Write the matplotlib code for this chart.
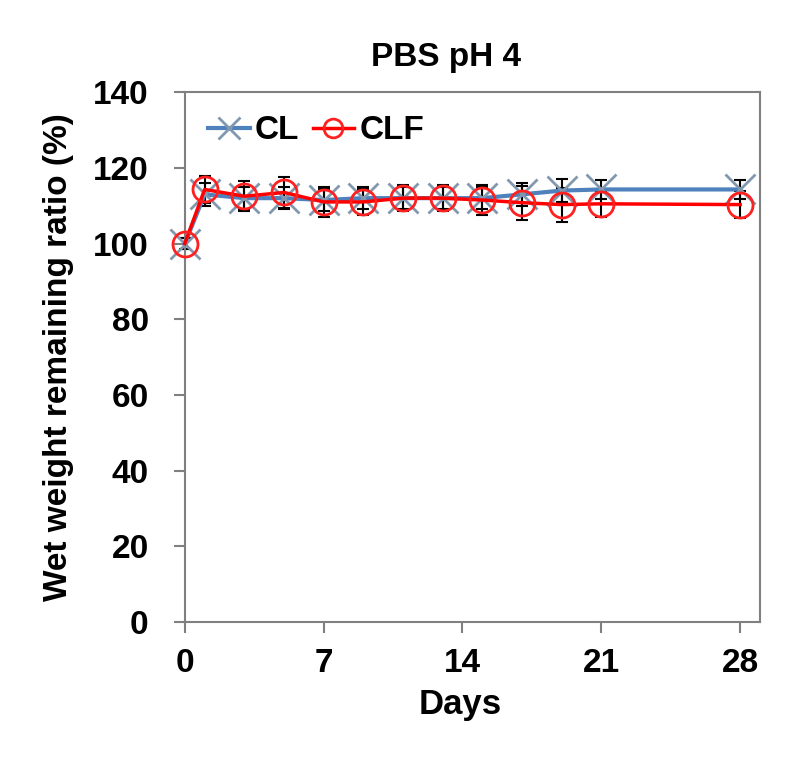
import numpy as np
import matplotlib.pyplot as plt

plt.rcParams['font.family'] = ['Liberation Sans', 'DejaVu Sans']
plt.rcParams['font.weight'] = 'bold'

days = [0, 1, 3, 5, 7, 9, 11, 13, 15, 17, 19, 21, 28]
cl = [100, 113, 112, 112, 111.5, 112, 112, 112, 112, 113, 114, 114.3, 114.3]
cl_err = [1.5, 3, 3, 3, 3, 3, 3, 3, 3, 3, 3, 2.5, 2.5]
clf = [100, 114.3, 112.5, 113.5, 111, 111, 112, 112, 111.5, 110.8, 110.3, 110.5, 110.3]
clf_err = [1.5, 3.5, 4, 4, 4, 3.5, 3.5, 3.5, 4, 4.5, 4.5, 3.5, 3.5]

xticks = [0, 7, 14, 21, 28]
yticks = [0, 20, 40, 60, 80, 100, 120, 140]

fig = plt.figure(figsize=(8, 7.68), dpi=100)
ax = fig.add_axes([0.231, 0.19, 0.719, 0.69])

# error bars first, then the lines with markers on top
for vals, errs in [(cl, cl_err), (clf, clf_err)]:
    eb = ax.errorbar(days, vals, yerr=errs, fmt='none', ecolor='black', elinewidth=1.5,
                     capsize=4, capthick=1.5, zorder=2)
    for art in eb.lines[1] + eb.lines[2]:
        art.set_clip_on(False)
ax.plot(days, cl, color='#4F81BD', lw=3, marker='x', markersize=21, markeredgewidth=2,
        markeredgecolor='#8298AE', label='CL', zorder=3, clip_on=False)
ax.plot(days, clf, color='#FF0000', lw=2.5, marker='o', markersize=18, markerfacecolor='none',
        markeredgewidth=2, markeredgecolor='#FF2020', label='CLF', zorder=4, clip_on=False)

ax.set_xlim(0, 29)
ax.set_ylim(0, 140)
ax.set_xticks(xticks)
ax.set_yticks(yticks)
ax.tick_params(axis='both', labelsize=24, direction='out', color='#808080', width=1.5, length=8)
ax.tick_params(axis='x', pad=11)
ax.tick_params(axis='y', pad=18)
for lbl in ax.get_xticklabels() + ax.get_yticklabels():
    lbl.set_fontweight('bold')
for s in ax.spines.values():
    s.set_color('#808080')
    s.set_linewidth(1.5)

ax.set_xlabel('Days', fontsize=25, fontweight='bold')
ax.xaxis.set_label_coords(0.478, -0.125)
ax.set_ylabel('Wet weight remaining ratio (%)', fontsize=24, fontweight='bold')
ax.yaxis.set_label_coords(-0.192, 0.5)
fig.text(0.557, 0.925, 'PBS pH 4', fontsize=24, fontweight='bold', ha='center', va='center')

ax.legend(loc='upper left', frameon=False, fontsize=24, ncol=2, handlelength=1.25,
          handletextpad=0.15, columnspacing=0.4, borderaxespad=0.3, markerscale=0.75)

fig.savefig('out.png', dpi=100)
